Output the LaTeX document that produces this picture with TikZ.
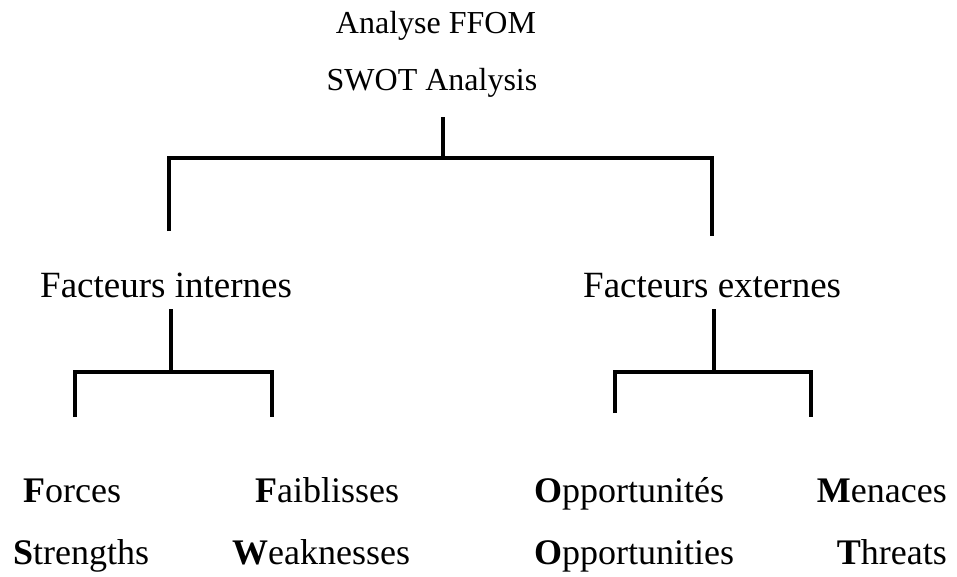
\documentclass[tikz,border=0pt]{standalone}
\usepackage{fontspec}
\setmainfont{Liberation Serif}
\begin{document}
\begin{tikzpicture}[x=1pt,y=-1pt,
  link/.style={line width=3.8pt, line join=miter},
  title/.style={inner sep=0pt, anchor=base, font=\fontsize{32}{36}\selectfont},
  group/.style={inner sep=0pt, anchor=base west, font=\fontsize{37}{42}\selectfont},
  item/.style={inner sep=0pt, anchor=base west, font=\fontsize{36}{40}\selectfont},
  itemr/.style={item, anchor=base east}]
\useasboundingbox (0,0) rectangle (957,576);

% headings
\node[title] (ffom) at (436,33) {Analyse FFOM};
\node[title] (swot) at (432,90) {SWOT Analysis};

% second level
\node[group] (int) at (40,297) {Facteurs internes};
\node[group] (ext) at (583,297) {Facteurs externes};

% leaves
\node[item]  (forces) at (23,502)  {\textbf{F}orces};
\node[item]  (faibl)  at (255,502) {\textbf{F}aiblisses};
\node[item]  (oppfr)  at (534,502) {\textbf{O}pportunités};
\node[itemr] (menac)  at (947,502) {\textbf{M}enaces};
\node[item]  (stren)  at (13,564)  {\textbf{S}trengths};
\node[item]  (weak)   at (232,564) {\textbf{W}eaknesses};
\node[item]  (oppen)  at (534,564) {\textbf{O}pportunities};
\node[itemr] (threat) at (947,564) {\textbf{T}hreats};

% connector points
\coordinate (rootTop) at (443,117);
\coordinate (rootBar) at (443,160);
\coordinate (barL) at (169,158);
\coordinate (barR) at (712,158);
\coordinate (intTop) at (169,231);
\coordinate (extTop) at (712,236);

\coordinate (iStemTop) at (171,309);
\coordinate (iStemBot) at (171,371);
\coordinate (iBarL) at (75,372);
\coordinate (iBarR) at (272,372);
\coordinate (iLeft) at (75,417);
\coordinate (iRight) at (272,417);

\coordinate (eStemTop) at (714,309);
\coordinate (eStemBot) at (714,371);
\coordinate (eBarL) at (615,372);
\coordinate (eBarR) at (811,372);
\coordinate (eLeft) at (615,413);
\coordinate (eRight) at (811,417);

% top level bracket
\draw[link] (rootTop) -- (rootBar);
\draw[link] (intTop) -- (barL) -- (barR) -- (extTop);

% internal factors bracket
\draw[link] (iStemTop) -- (iStemBot);
\draw[link] (iLeft) -- (iBarL) -- (iBarR) -- (iRight);

% external factors bracket
\draw[link] (eStemTop) -- (eStemBot);
\draw[link] (eLeft) -- (eBarL) -- (eBarR) -- (eRight);
\end{tikzpicture}
\end{document}
